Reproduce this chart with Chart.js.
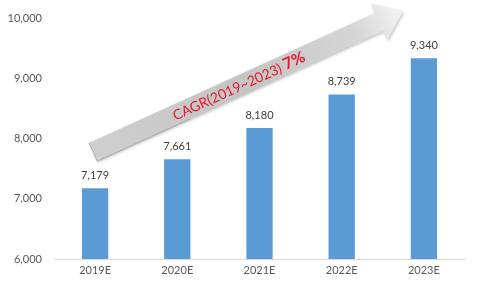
<!DOCTYPE html>
<html>
<head>
<meta charset="utf-8">
<script src="https://cdn.jsdelivr.net/npm/chart.js@4/dist/chart.umd.min.js"></script>
<style>
html,body{margin:0;padding:0;background:#fff;}
#wrap{width:481px;height:290px;position:relative;}
</style>
</head>
<body>
<div id="wrap"><canvas id="c" width="481" height="290"></canvas></div>
<script>
const categories = ['2019E', '2020E', '2021E', '2022E', '2023E'];
const values = [7179, 7661, 8180, 8739, 9340];
const yTicks = [6000, 7000, 8000, 9000, 10000];
const cagrLabel = 'CAGR(2019~2023) ';
const cagrValue = '7%';

const FONT = 'Lato, "Open Sans", sans-serif';

const fmt = v => v.toLocaleString('en-US');

const arrowPlugin = {
  id: 'arrow',
  afterDatasetsDraw(chart) {
    const ctx = chart.ctx;
    const x = chart.scales.x, y = chart.scales.y;
    const tx = x.getPixelForValue(0) - 2, ty = y.getPixelForValue(7780);
    const hx = x.getPixelForValue(4) - 21, hy = y.getPixelForValue(10120);
    const dx = hx - tx, dy = hy - ty;
    const len = Math.hypot(dx, dy);
    const ang = Math.atan2(dy, dx);
    const sw = 10, hw = 20, hl = 26;
    ctx.save();
    ctx.translate(tx, ty);
    ctx.rotate(ang);
    ctx.shadowColor = 'rgba(0,0,0,0.25)';
    ctx.shadowBlur = 3;
    ctx.shadowOffsetX = 1;
    ctx.shadowOffsetY = 1;
    const g = ctx.createLinearGradient(0, 0, len, 0);
    g.addColorStop(0, '#cfcfcf');
    g.addColorStop(0.5, '#c4c4c4');
    g.addColorStop(0.85, '#d6d6d6');
    g.addColorStop(1, '#f4f4f4');
    ctx.fillStyle = g;
    ctx.beginPath();
    ctx.moveTo(0, -sw);
    ctx.lineTo(len - hl, -sw);
    ctx.lineTo(len - hl, -hw);
    ctx.lineTo(len, 0);
    ctx.lineTo(len - hl, hw);
    ctx.lineTo(len - hl, sw);
    ctx.lineTo(0, sw);
    ctx.closePath();
    ctx.fill();
    ctx.shadowColor = 'transparent';
    ctx.strokeStyle = 'rgba(150,150,150,0.6)';
    ctx.lineWidth = 1;
    ctx.beginPath();
    ctx.moveTo(0, -sw); ctx.lineTo(0, sw); ctx.lineTo(len * 0.3, sw);
    ctx.stroke();
    ctx.textBaseline = 'middle';
    ctx.fillStyle = '#e8192c';
    ctx.font = '14px ' + FONT;
    const w1 = ctx.measureText(cagrLabel).width;
    ctx.font = 'bold 16px ' + FONT;
    const w2 = ctx.measureText(cagrValue).width;
    const cx = len * 0.47;
    const start = cx - (w1 + w2) / 2;
    ctx.font = '14px ' + FONT;
    ctx.textAlign = 'left';
    ctx.fillText(cagrLabel, start, 1);
    ctx.font = 'bold 16px ' + FONT;
    ctx.fillText(cagrValue, start + w1, 0);
    ctx.restore();
  }
};

const labelPlugin = {
  id: 'barLabels',
  afterDatasetsDraw(chart) {
    const ctx = chart.ctx;
    const meta = chart.getDatasetMeta(0);
    ctx.save();
    ctx.font = '11px ' + FONT;
    ctx.fillStyle = '#404040';
    ctx.textAlign = 'center';
    ctx.textBaseline = 'middle';
    meta.data.forEach((bar, i) => {
      ctx.fillText(fmt(values[i]), bar.x, bar.y - 13);
    });
    ctx.restore();
  }
};

new Chart(document.getElementById('c'), {
  type: 'bar',
  data: {
    labels: categories,
    datasets: [{
      data: values,
      backgroundColor: '#5b9bd5',
      borderWidth: 0,
      categoryPercentage: 1,
      barPercentage: 0.32
    }]
  },
  options: {
    responsive: false,
    animation: false,
    devicePixelRatio: 1,
    layout: { padding: { top: 16, right: 16, bottom: 0, left: 0 } },
    plugins: { legend: { display: false }, tooltip: { enabled: false } },
    scales: {
      x: {
        grid: { display: false, drawTicks: false },
        border: { display: true, color: '#d9d9d9', width: 1 },
        ticks: { color: '#595959', font: { family: FONT, size: 11 }, padding: 5 },
        afterFit(s) { s.height = 31; }
      },
      y: {
        min: 6000, max: 10000,
        afterBuildTicks(s) { s.ticks = yTicks.map(v => ({ value: v })); },
        grid: { display: false, drawTicks: false },
        border: { display: false },
        ticks: {
          color: '#595959', font: { family: FONT, size: 11 }, padding: 12,
          callback: v => fmt(v)
        },
        afterFit(s) { s.width = 54; }
      }
    }
  },
  plugins: [arrowPlugin, labelPlugin]
});
</script>
</body>
</html>
